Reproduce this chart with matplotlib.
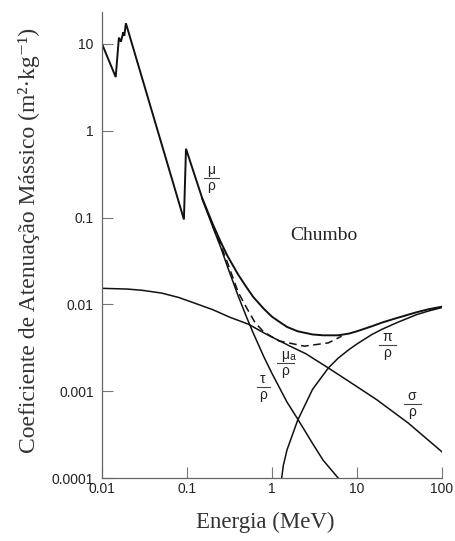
import matplotlib
matplotlib.use('Agg')
import matplotlib.pyplot as plt
from matplotlib.lines import Line2D

# energies in MeV, coefficients in m2/kg
E_total = [0.01, 0.0145, 0.0158, 0.0167, 0.0178, 0.0183, 0.0191, 0.092, 0.0973,
           0.15, 0.2, 0.25, 0.3, 0.4, 0.5, 0.6, 0.8, 1.0, 1.25, 1.5, 2, 3, 4, 5,
           6, 8, 10, 15, 20, 30, 50, 70, 100]
mu_total = [10.0, 4.15, 11.8, 10.6, 13.6, 12.4, 17.3, 0.095, 0.62,
            0.17, 0.085, 0.052, 0.036, 0.022, 0.0158, 0.0122, 0.0089, 0.0072, 0.0062, 0.0055, 0.0049, 0.0045, 0.0044, 0.0044,
            0.0044, 0.0046, 0.0049, 0.0056, 0.0062, 0.0070, 0.0081, 0.0088, 0.0094]

E_tau = [0.15, 0.2, 0.25, 0.3, 0.4, 0.5, 0.6, 0.8, 1.0, 1.5, 2.0, 3.0, 4.0, 6.0]
tau = [0.165, 0.079, 0.045, 0.027, 0.0125, 0.0072, 0.0047, 0.0025, 0.0016, 0.00075, 0.00048, 0.00025, 0.00016, 0.0001]

E_mua = [0.2, 0.25, 0.3, 0.4, 0.5, 0.63, 0.8, 1.2, 2.4, 4.6, 6.6]
mu_a = [0.08, 0.048, 0.030, 0.0138, 0.0092, 0.0062, 0.0048, 0.0038, 0.0033, 0.0036, 0.0043]

E_sigma = [0.01, 0.02, 0.03, 0.05, 0.08, 0.124, 0.2, 0.32, 0.53, 0.8, 1.0, 1.63, 2.5, 4.6, 8, 17, 40, 100]
sigma = [0.0153, 0.0150, 0.0145, 0.0135, 0.0120, 0.0103, 0.0087, 0.0071, 0.0059, 0.0047, 0.0042,
         0.0033, 0.0027, 0.00185, 0.0013, 0.0008, 0.00043, 0.0002]

E_pi = [1.3, 1.36, 1.5, 2.0, 3.0, 4.6, 6, 8, 10, 15, 20, 30, 50, 70, 100]
pair = [0.0001, 0.00014, 0.00021, 0.00046, 0.00105, 0.00185, 0.0024, 0.0030, 0.0035, 0.0045, 0.0052, 0.0062, 0.0076, 0.0084, 0.0092]

x_ticks = [0.01, 0.1, 1, 10, 100]
x_labels = ['0.01', '0.1', '1', '10', '100']
y_ticks = [0.0001, 0.001, 0.01, 0.1, 1, 10]
y_labels = ['0.0001', '0.001', '0.01', '0.1', '1', '10']

W, H = 455, 541
fig = plt.figure(figsize=(W / 100, H / 100), dpi=100)
ax = fig.add_axes([102 / W, 1 - 478 / H, 340 / W, 466 / H])

ink = '#111111'
ax.plot(E_total, mu_total, color=ink, lw=1.4, solid_joinstyle='miter')
ax.plot(E_tau, tau, color=ink, lw=1.1)
ax.plot(E_mua, mu_a, color=ink, lw=1.1, linestyle=(0, (5, 3)))
ax.plot(E_sigma, sigma, color=ink, lw=1.1)
ax.plot(E_pi, pair, color=ink, lw=1.1)

ax.set_xscale('log')
ax.set_yscale('log')
ax.set_xlim(0.01, 100)
ax.set_ylim(0.0001, 23.3)
ax.set_xticks(x_ticks)
ax.set_xticklabels(x_labels)
ax.set_yticks(y_ticks)
ax.set_yticklabels(y_labels)
ax.minorticks_off()

for s in ['top', 'right']:
    ax.spines[s].set_visible(False)
for s in ['left', 'bottom']:
    ax.spines[s].set_color('#666666')
    ax.spines[s].set_linewidth(0.9)
ax.tick_params(direction='in', length=8, width=0.8, color='#777777',
               labelsize=10, labelcolor='#222222')
ax.tick_params(axis='y', pad=6)
ax.tick_params(axis='x', pad=3)
for lab in ax.get_xticklabels() + ax.get_yticklabels():
    lab.set_family('Liberation Sans')

serif = ['Liberation Serif', 'DejaVu Serif']
fig.text(29 / W, 1 - 240 / H, 'Coeficiente de Atenuação Mássico (m²·kg⁻¹)',
         rotation=90, ha='center', va='center', fontsize=17, family=serif, color='#333333')
fig.text(265 / W, 1 - 522 / H, 'Energia (MeV)', ha='center', va='center',
         fontsize=16.5, family=serif, color='#333333')
fig.text(324 / W, 1 - 236 / H, 'Chumbo', ha='center', va='center',
         fontsize=14, family=serif, color='#222222')


def frac(cx, cy, top, w, sub=None):
    # little fraction label drawn in figure pixels
    fig.text(cx / W, 1 - (cy - 1) / H, top, ha='center', va='bottom',
             fontsize=10, family='Liberation Sans', color='#222222')
    if sub:
        fig.text((cx + 5) / W, 1 - (cy - 1) / H, sub, ha='left', va='bottom',
                 fontsize=7.5, family='Liberation Sans', color='#222222')
    fig.text(cx / W, 1 - (cy + 1) / H, 'ρ', ha='center', va='top',
             fontsize=10, family='Liberation Sans', color='#222222')
    fig.add_artist(Line2D([(cx - w / 2) / W, (cx + w / 2) / W], [1 - cy / H] * 2,
                          lw=0.8, color='#444444'))


frac(211, 178, 'μ', 15)
frac(263, 387, 'τ', 13)
frac(285, 363, 'μ', 17, sub='a')
frac(387, 345, 'π', 17)
frac(412, 404, 'σ', 17)

fig.savefig('out.png', dpi=100, facecolor='white')
